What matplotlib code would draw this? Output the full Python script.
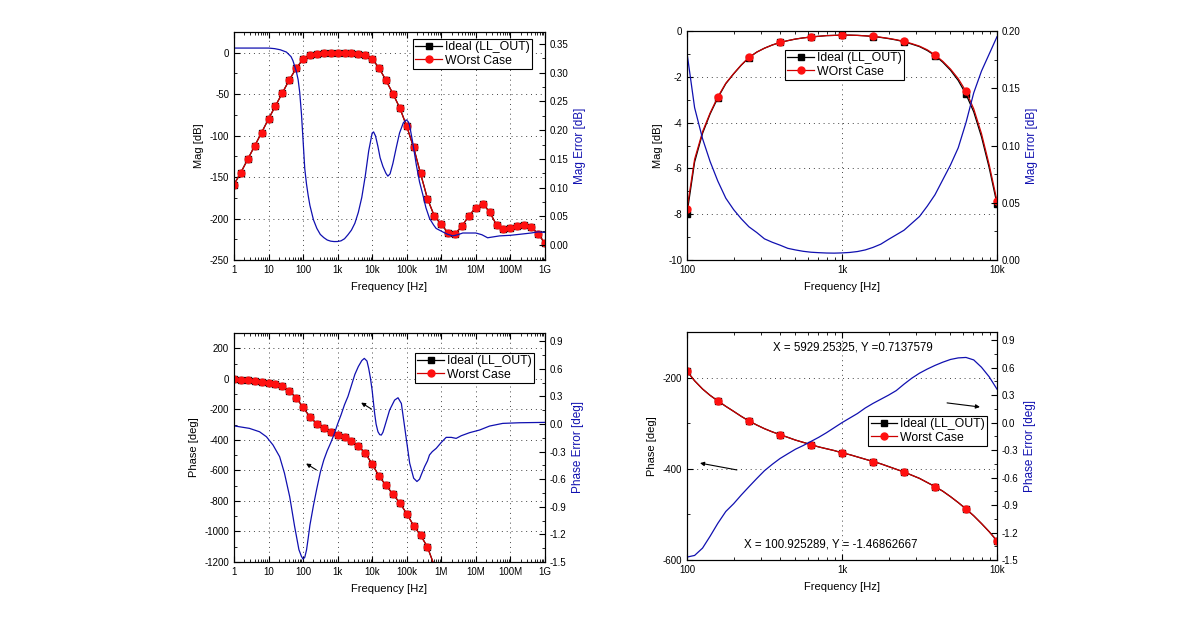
import matplotlib
matplotlib.use("Agg")
import matplotlib.pyplot as plt
from matplotlib.lines import Line2D
from matplotlib.ticker import FixedLocator, MultipleLocator, FuncFormatter, LogLocator, NullFormatter

plt.rcParams['font.family'] = ['Liberation Sans', 'DejaVu Sans']
plt.rcParams['font.size'] = 7
plt.rcParams['axes.unicode_minus'] = False

# ---- wide sweep, 5 points per decade (1 Hz .. 1 GHz)
freq_wide = [1, 1.585, 2.512, 3.981, 6.31, 10, 15.85, 25.12, 39.81, 63.1,
             100, 158.5, 251.2, 398.1, 631, 1e3, 1585, 2512, 3981, 6310,
             1e4, 15850, 25120, 39810, 63100, 1e5, 158500, 251200, 398100, 631000,
             1e6, 1.585e6, 2.512e6, 3.981e6, 6.31e6, 1e7, 1.585e7, 2.512e7, 3.981e7, 6.31e7,
             1e8, 1.585e8, 2.512e8, 3.981e8, 6.31e8, 1e9]
mag_wide = [-159.0, -144.5, -128.4, -112.4, -96.3, -79.9, -64.2, -48.6, -32.9, -18.9,
            -7.8, -2.9, -1.15, -0.5, -0.26, -0.18, -0.23, -0.45, -1.04, -2.62,
            -7.4, -18.5, -33.3, -49.4, -66.6, -88.7, -114.3, -145.5, -176.0, -197.0,
            -207.0, -217.5, -218.5, -209.0, -196.8, -186.7, -182.0, -192.0, -207.8, -213.0,
            -212.0, -209.0, -207.5, -210.0, -218.5, -229.5]
phase_wide = [-4, -7, -11, -15, -20, -27, -35, -50, -78, -124,
              -187, -250, -295, -325, -347, -365, -384, -407, -439, -488,
              -558, -639, -697, -756, -812, -884, -962, -1024, -1102, -1225,
              -1320]

freq_magerr = [1, 10, 15, 22, 33, 45, 51, 64, 72, 80, 90, 100, 112, 126, 141, 158, 200, 251,
               316, 398, 501, 631, 794, 1000, 1259, 1585, 1995, 2512, 3162, 3981, 5012, 6310,
               7943, 10000, 11000, 12500, 14650, 17000, 20450, 25000, 28500, 33000, 39800,
               50000, 62000, 80000, 96800, 110000, 120800, 150000, 190000, 235000, 295000,
               360000, 457000, 600000, 710000, 1.1e6, 1.5e6, 2.15e6, 3e6, 4.2e6, 1e7, 1.5e7,
               2.2e7, 3e7, 4.9e7, 1e8, 1.83e8, 4e8, 6.31e8, 1e9]
magerr_wide = [0.343, 0.343, 0.342, 0.340, 0.336, 0.328, 0.321, 0.302, 0.288, 0.266, 0.228,
               0.183, 0.133, 0.106, 0.086, 0.069, 0.044, 0.029, 0.0185, 0.013, 0.0088, 0.0068,
               0.0061, 0.0062, 0.0074, 0.011, 0.018, 0.026, 0.038, 0.057, 0.083, 0.12, 0.164,
               0.195, 0.197, 0.19, 0.172, 0.152, 0.137, 0.125, 0.120, 0.124, 0.142, 0.170,
               0.195, 0.213, 0.218, 0.215, 0.209, 0.178, 0.1395, 0.110, 0.087, 0.065, 0.0465,
               0.035, 0.029, 0.023, 0.019, 0.016, 0.018, 0.021, 0.021, 0.018, 0.0127, 0.014,
               0.016, 0.017, 0.0187, 0.021, 0.023, 0.022]

freq_pherr = [1, 2.8, 5.5, 8.7, 13.5, 21, 29, 41, 57, 76, 90, 100, 112, 126, 141, 158, 200,
              251, 316, 398, 501, 631, 794, 1000, 1259, 1585, 1995, 2512, 3162, 3981, 5012,
              5929, 7079, 7943, 8913, 10000, 11800, 13000, 14700, 16500, 18400, 20500, 23000,
              32000, 44600, 56000, 70000, 87000, 105000, 122000, 159000, 198000, 235000,
              265000, 330000, 400000, 457000, 550000, 716000, 1e6, 1.39e6, 1.95e6, 2.7e6,
              3.8e6, 6.6e6, 1.29e7, 2.5e7, 6e7, 1.83e8, 1e9]
pherr_wide = [-0.02, -0.047, -0.084, -0.138, -0.228, -0.355, -0.535, -0.789, -1.114, -1.367,
              -1.44, -1.468, -1.45, -1.37, -1.24, -1.10, -0.885, -0.70, -0.525, -0.392, -0.29,
              -0.205, -0.11, 0.0, 0.10, 0.21, 0.30, 0.42, 0.54, 0.625, 0.69, 0.714, 0.685,
              0.605, 0.50, 0.366, 0.116, 0.0, -0.083, -0.115, -0.12, -0.09, -0.029, 0.152,
              0.26, 0.286, 0.224, -0.029, -0.25, -0.426, -0.589, -0.625, -0.60, -0.55,
              -0.463, -0.40, -0.336, -0.30, -0.264, -0.20, -0.145, -0.145, -0.156, -0.127,
              -0.094, -0.065, -0.022, 0.007, 0.014, 0.018]

# ---- zoomed sweep, 100 Hz .. 10 kHz (markers every 4th point)
freq_zoom = [100, 112, 126, 141, 158, 178, 200, 224, 251, 282, 316, 355, 398, 447, 501, 562,
             631, 708, 794, 891, 1000, 1122, 1259, 1413, 1585, 1778, 1995, 2239, 2512, 2818,
             3162, 3548, 3981, 4467, 5012, 5623, 6310, 7079, 7943, 8913, 10000]
mag_zoom_worst = [-7.78, -5.6, -4.4, -3.58, -2.88, -2.28, -1.86, -1.48, -1.15, -0.92, -0.75,
                  -0.61, -0.5, -0.42, -0.35, -0.3, -0.26, -0.23, -0.2, -0.19, -0.18, -0.18,
                  -0.19, -0.21, -0.23, -0.27, -0.32, -0.38, -0.45, -0.55, -0.66, -0.82, -1.04,
                  -1.32, -1.66, -2.08, -2.63, -3.4, -4.48, -5.85, -7.42]
mag_zoom_ideal = [-7.98, -5.72, -4.47, -3.62, -2.92, -2.3, -1.87, -1.49, -1.16, -0.92, -0.75,
                  -0.61, -0.5, -0.42, -0.35, -0.3, -0.26, -0.23, -0.2, -0.19, -0.18, -0.18,
                  -0.19, -0.21, -0.24, -0.28, -0.33, -0.39, -0.47, -0.57, -0.68, -0.85, -1.07,
                  -1.36, -1.71, -2.16, -2.76, -3.53, -4.62, -5.98, -7.55]
magerr_zoom = [0.181, 0.133, 0.106, 0.086, 0.069, 0.054, 0.044, 0.036, 0.029, 0.024, 0.0185,
               0.0155, 0.013, 0.0102, 0.0088, 0.0076, 0.0068, 0.0064, 0.0061, 0.006, 0.0062,
               0.0066, 0.0074, 0.0088, 0.011, 0.0138, 0.018, 0.022, 0.026, 0.032, 0.038, 0.047,
               0.057, 0.07, 0.083, 0.098, 0.12, 0.146, 0.165, 0.18, 0.195]
phase_zoom = [-186, -207, -225, -239, -251, -263, -274, -285, -295, -304, -312, -319, -325,
              -331, -337, -342, -347, -352, -356, -360, -365, -369, -374, -379, -384, -389,
              -395, -401, -407, -414, -421, -430, -439, -449, -461, -474, -488, -503, -520,
              -538, -558]
pherr_zoom = [-1.468, -1.45, -1.37, -1.24, -1.10, -0.97, -0.885, -0.79, -0.70, -0.61, -0.525,
              -0.455, -0.392, -0.34, -0.29, -0.25, -0.205, -0.16, -0.11, -0.055, 0.0, 0.05,
              0.10, 0.16, 0.21, 0.255, 0.30, 0.35, 0.42, 0.485, 0.54, 0.585, 0.625, 0.66, 0.69,
              0.707, 0.712, 0.685, 0.605, 0.50, 0.366]

wide_ticks = [1, 10, 100, 1e3, 1e4, 1e5, 1e6, 1e7, 1e8, 1e9]
wide_labels = ['1', '10', '100', '1k', '10k', '100k', '1M', '10M', '100M', '1G']
zoom_ticks = [100, 1e3, 1e4]
zoom_labels = ['100', '1k', '10k']

BLUE = '#1010b0'
RED_LINE = '#cc0000'
RED_MK = '#ff1010'
GRID = dict(color='#444444', linestyle=(0, (1, 4)), linewidth=0.7)
LABEL_FS = 8
arrow = dict(arrowstyle='-|>', color='k', lw=0.8, mutation_scale=6, shrinkA=0, shrinkB=0)


def fmt(decimals):
    def f(v, pos):
        if abs(v) < 1e-9:
            v = 0.0
        return f'{v:.{decimals}f}'
    return FuncFormatter(f)


def style_x(ax, ticks, labels, lim):
    ax.set_xscale('log')
    ax.set_xlim(lim)
    ax.xaxis.set_major_locator(FixedLocator(ticks))
    ax.set_xticklabels(labels)
    ax.xaxis.set_minor_locator(LogLocator(base=10, subs=range(2, 10), numticks=20))
    ax.xaxis.set_minor_formatter(NullFormatter())
    ax.set_xlabel('Frequency [Hz]', labelpad=5, fontsize=LABEL_FS)


def tick_style(ax):
    ax.tick_params(which='both', direction='in', top=True, right=False)
    ax.tick_params(which='major', length=4)
    ax.tick_params(which='minor', length=2)


def add_legend(tw, worst_label, loc, anchor):
    h = [Line2D([], [], color='k', marker='s', ms=4, lw=0.9),
         Line2D([], [], color=RED_LINE, marker='o', mfc=RED_MK, mec=RED_MK, ms=5, lw=0.9)]
    lg = tw.legend(h, ['Ideal (LL_OUT)', worst_label], loc=loc, bbox_to_anchor=anchor,
                   borderaxespad=0, fancybox=False, framealpha=1, edgecolor='k',
                   fontsize=8.8, handlelength=2.2, handletextpad=0.2, borderpad=0.2,
                   labelspacing=0.1, numpoints=1)
    lg.get_frame().set_linewidth(0.8)


def right_axis(ax, x, y, lim, major, minor, decimals, label):
    tw = ax.twinx()
    tw.plot(x, y, color=BLUE, lw=0.9)
    tw.set_ylim(lim)
    tw.yaxis.set_major_locator(MultipleLocator(major))
    tw.yaxis.set_minor_locator(MultipleLocator(minor))
    tw.yaxis.set_major_formatter(fmt(decimals))
    tw.set_ylabel(label, color=BLUE, fontsize=LABEL_FS + 0.5)
    tw.tick_params(which='both', direction='in')
    tw.tick_params(which='major', length=4)
    tw.tick_params(which='minor', length=2)
    return tw


fig = plt.figure(figsize=(11.9, 6.32), dpi=100)

# ---- top-left: magnitude, wide sweep
ax = fig.add_axes([0.1966, 0.5886, 0.2613, 0.3608])
ax.plot(freq_wide, mag_wide, color='k', lw=0.9, marker='s', ms=4)
ax.plot(freq_wide, mag_wide, color=RED_LINE, lw=0.9, marker='o', ms=4.8, mfc=RED_MK, mec=RED_MK)
style_x(ax, wide_ticks, wide_labels, (1, 1e9))
ax.set_ylim(-250, 25)
ax.yaxis.set_major_locator(MultipleLocator(50))
ax.yaxis.set_minor_locator(MultipleLocator(25))
ax.set_ylabel('Mag [dB]', fontsize=LABEL_FS)
ax.grid(True, which='major', **GRID)
tick_style(ax)
tw = right_axis(ax, freq_magerr, magerr_wide, (-0.026, 0.371), 0.05, 0.025, 2, 'Mag Error [dB]')
add_legend(tw, 'WOrst Case', 'upper right', (0.958, 0.969))

# ---- top-right: magnitude, 100 Hz .. 10 kHz
ax = fig.add_axes([0.5773, 0.5886, 0.2605, 0.3623])
ax.plot(freq_zoom, mag_zoom_ideal, color='k', lw=0.9, marker='s', ms=4, markevery=4)
ax.plot(freq_zoom, mag_zoom_worst, color=RED_LINE, lw=0.9, marker='o', ms=5,
        mfc=RED_MK, mec=RED_MK, markevery=4)
style_x(ax, zoom_ticks, zoom_labels, (100, 1e4))
ax.set_ylim(-10, 0)
ax.yaxis.set_major_locator(MultipleLocator(2))
ax.yaxis.set_minor_locator(MultipleLocator(1))
ax.set_ylabel('Mag [dB]', fontsize=LABEL_FS)
ax.grid(True, which='major', **GRID)
tick_style(ax)
tw = right_axis(ax, freq_zoom, magerr_zoom, (0, 0.2), 0.05, 0.025, 2, 'Mag Error [dB]')
add_legend(tw, 'WOrst Case', 'upper left', (0.316, 0.917))

# ---- bottom-left: phase, wide sweep
ax = fig.add_axes([0.1966, 0.1108, 0.2613, 0.3623])
n = len(phase_wide)
ax.plot(freq_wide[:n], phase_wide, color='k', lw=0.9, marker='s', ms=4)
ax.plot(freq_wide[:n], phase_wide, color=RED_LINE, lw=0.9, marker='o', ms=4.8, mfc=RED_MK, mec=RED_MK)
style_x(ax, wide_ticks, wide_labels, (1, 1e9))
ax.set_ylim(-1200, 300)
ax.yaxis.set_major_locator(MultipleLocator(200))
ax.yaxis.set_minor_locator(MultipleLocator(100))
ax.set_ylabel('Phase [deg]', fontsize=LABEL_FS)
ax.grid(True, which='major', **GRID)
tick_style(ax)
tw = right_axis(ax, freq_pherr, pherr_wide, (-1.5, 0.99), 0.3, 0.15, 1, 'Phase Error [deg]')
add_legend(tw, 'Worst Case', 'upper right', (0.965, 0.913))
tw.annotate('', xy=(0.232, 0.43), xytext=(0.265, 0.402), xycoords='axes fraction', arrowprops=arrow)
tw.annotate('', xy=(0.409, 0.696), xytext=(0.442, 0.668), xycoords='axes fraction', arrowprops=arrow)

# ---- bottom-right: phase, 100 Hz .. 10 kHz
ax = fig.add_axes([0.5773, 0.1139, 0.2605, 0.3608])
ax.plot(freq_zoom, phase_zoom, color='k', lw=0.9, marker='s', ms=4, markevery=4)
ax.plot(freq_zoom, phase_zoom, color=RED_LINE, lw=0.9, marker='o', ms=5,
        mfc=RED_MK, mec=RED_MK, markevery=4)
style_x(ax, zoom_ticks, zoom_labels, (100, 1e4))
ax.set_ylim(-600, -100)
ax.yaxis.set_major_locator(MultipleLocator(200))
ax.yaxis.set_minor_locator(MultipleLocator(100))
ax.set_ylabel('Phase [deg]', fontsize=LABEL_FS)
ax.grid(True, which='major', **GRID)
tick_style(ax)
tw = right_axis(ax, freq_zoom, pherr_zoom, (-1.5, 0.99), 0.3, 0.15, 1, 'Phase Error [deg]')
add_legend(tw, 'Worst Case', 'upper right', (0.968, 0.632))
tw.text(0.535, 0.93, 'X = 5929.25325, Y =0.7137579', transform=tw.transAxes,
        ha='center', va='center', fontsize=8.3)
tw.text(0.465, 0.066, 'X = 100.925289, Y = -1.46862667', transform=tw.transAxes,
        ha='center', va='center', fontsize=8.3)
tw.annotate('', xy=(0.042, 0.425), xytext=(0.161, 0.395), xycoords='axes fraction', arrowprops=arrow)
tw.annotate('', xy=(0.945, 0.671), xytext=(0.839, 0.689), xycoords='axes fraction', arrowprops=arrow)

fig.savefig('out.png', dpi=100)
